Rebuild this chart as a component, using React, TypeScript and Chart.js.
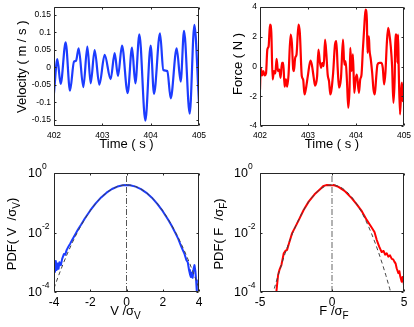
import React, { useEffect, useRef } from 'react';
import { Chart, registerables } from 'chart.js';
Chart.register(...registerables);

const FONT = '"Liberation Sans", Arial, Helvetica, sans-serif';

// ---------------- data ----------------
const timeTicks = [402, 403, 404, 405];
const velocityTicks = [-0.15, -0.1, -0.05, 0, 0.05, 0.1, 0.15];
const forceTicks = [-4, -2, 0, 2, 4];
const pdfTicks = [1e-4, 1e-2, 1];
const vNormTicks = [-4, -2, 0, 2, 4];
const fNormTicks = [-5, 0, 5];

const velocityTime = [402.0, 402.069, 402.138, 402.241, 402.331, 402.414, 402.455, 402.51, 402.607, 402.69, 402.759, 402.841, 402.938, 403.048, 403.172, 403.255, 403.324, 403.407, 403.524, 403.614, 403.683, 403.766, 403.89, 404.0, 404.069, 404.193, 404.262, 404.345, 404.414, 404.538, 404.621, 404.69, 404.807, 404.904, 405.0];
const velocityValue = [-0.074, 0.023, -0.048, 0.071, -0.067, 0.016, 0.018, 0.054, -0.057, 0.059, -0.046, 0.049, -0.05, 0.035, -0.034, 0.04, -0.025, 0.062, -0.074, 0.056, -0.046, 0.094, -0.153, 0.062, -0.076, 0.097, -0.008, -0.011, -0.089, 0.054, -0.041, 0.104, -0.133, 0.121, -0.103];

const forceTime = [402.0, 402.015, 402.042, 402.07, 402.097, 402.125, 402.153, 402.18, 402.208, 402.236, 402.263, 402.291, 402.319, 402.346, 402.374, 402.402, 402.429, 402.457, 402.485, 402.512, 402.54, 402.567, 402.595, 402.637, 402.664, 402.692, 402.706, 402.733, 402.761, 402.802, 402.83, 402.871, 402.899, 402.927, 402.954, 402.996, 403.051, 403.079, 403.12, 403.148, 403.19, 403.217, 403.245, 403.272, 403.3, 403.328, 403.355, 403.383, 403.41, 403.438, 403.466, 403.521, 403.563, 403.59, 403.618, 403.646, 403.687, 403.729, 403.756, 403.784, 403.812, 403.839, 403.867, 403.881, 403.908, 403.936, 403.964, 403.991, 404.019, 404.06, 404.088, 404.115, 404.143, 404.171, 404.198, 404.226, 404.24, 404.268, 404.281, 404.309, 404.337, 404.364, 404.392, 404.42, 404.447, 404.489, 404.53, 404.558, 404.586, 404.613, 404.641, 404.669, 404.696, 404.724, 404.752, 404.779, 404.807, 404.82, 404.848, 404.862, 404.876, 404.889, 404.917, 404.945, 404.958, 404.972, 405.0];
const forceValue = [-1.54, -0.09, -0.6, -0.31, -0.6, -0.47, 1.14, 1.36, 2.82, 2.26, -0.87, -0.31, -0.47, 0.52, -0.31, -0.2, -0.76, 0.25, 0.25, -1.36, -0.87, -1.36, -0.54, 2.15, 1.59, -0.2, -0.31, 0.58, 0.81, 2.82, 2.26, -0.65, -0.87, -1.88, -1.54, -0.65, 0.4, 0.13, -0.76, -1.28, -0.65, 1.14, 0.36, -0.09, 0.25, 0.02, 1.81, 0.81, -0.54, -0.99, -1.88, -0.54, 1.48, 1.7, -0.09, -1.43, -0.76, 1.81, 0.13, 0.36, -0.99, -2.77, -1.32, 1.25, -0.31, 0.81, -1.77, -0.87, -0.54, -1.77, -0.87, -0.54, 1.14, 2.6, 3.83, 3.15, 0.92, 2.03, 1.14, 0.47, -0.42, -1.54, -1.88, -0.76, 0.13, 0.25, 0.25, -0.09, -1.21, -0.42, 1.48, 2.6, 2.15, 1.36, 0.02, -2.44, -0.65, 2.15, 2.15, 0.25, 2.15, 0.02, -3.22, -1.43, -1.09, -2.33, -1.21];

const gaussU = [-4.5, -4.25, -4, -3.75, -3.5, -3.25, -3, -2.75, -2.5, -2.25, -2, -1.75, -1.5, -1.25, -1, -0.75, -0.5, -0.25, 0, 0.25, 0.5, 0.75, 1, 1.25, 1.5, 1.75, 2, 2.25, 2.5, 2.75, 3, 3.25, 3.5, 3.75, 4, 4.25, 4.5];
const gaussPdf = [1.6e-5, 4.77e-5, 1.338e-4, 3.526e-4, 8.727e-4, 2.029e-3, 4.432e-3, 9.094e-3, 1.753e-2, 3.174e-2, 5.399e-2, 8.628e-2, 0.1295, 0.1826, 0.242, 0.3011, 0.3521, 0.3867, 0.3989, 0.3867, 0.3521, 0.3011, 0.242, 0.1826, 0.1295, 8.628e-2, 5.399e-2, 3.174e-2, 1.753e-2, 9.094e-3, 4.432e-3, 2.029e-3, 8.727e-4, 3.526e-4, 1.338e-4, 4.77e-5, 1.6e-5];

const vPdfU = [-3.95, -3.9, -3.85, -3.8, -3.75, -3.7, -3.62, -3.55, -3.45, -3.38, -3.3, -3.2, -3.1, -3.0, -2.9, -2.8, -2.7, -2.6, -2.5, -2.3, -2.0, -1.7, -1.4, -1.1, -0.8, -0.5, -0.2, 0.0, 0.2, 0.5, 0.8, 1.1, 1.4, 1.7, 2.0, 2.3, 2.5, 2.7, 2.85, 3.0, 3.1, 3.2, 3.3, 3.38, 3.45, 3.5, 3.55, 3.6, 3.65, 3.7, 3.75, 3.8, 3.84, 3.88, 3.92];
const vPdfValue = [4.5e-4, 1.1e-3, 5.5e-4, 9e-4, 6e-4, 1.0e-3, 8e-4, 1.3e-3, 1.9e-3, 1.8e-3, 2.6e-3, 3.4e-3, 4.3e-3, 5.6e-3, 7.2e-3, 9.2e-3, 1.18e-2, 1.5e-2, 1.85e-2, 2.95e-2, 5.5e-2, 9.5e-2, 0.151, 0.218, 0.29, 0.35, 0.39, 0.395, 0.388, 0.348, 0.287, 0.215, 0.148, 0.092, 0.052, 0.027, 0.0165, 0.0095, 0.0062, 0.0036, 0.0026, 0.0019, 0.0012, 0.001, 0.00055, 0.0004, 0.00032, 0.00045, 0.0003, 0.0006, 0.0008, 0.0005, 0.00025, 0.0001, 0.00004];

const fPdfU = [-3.92, -3.86, -3.74, -3.65, -3.51, -3.35, -3.24, -3.12, -3.0, -2.77, -2.59, -2.31, -1.97, -1.62, -1.21, -0.81, -0.58, -0.35, -0.12, 0.11, 0.45, 0.87, 1.38, 1.72, 2.07, 2.42, 2.72, 2.95, 3.11, 3.27, 3.45, 3.58, 3.69, 3.8, 3.91, 4.03, 4.15, 4.25, 4.33, 4.42, 4.49, 4.61, 4.68, 4.74, 4.84, 4.9, 4.95, 5.0];
const fPdfValue = [6e-5, 1.05e-4, 3.8e-4, 5.5e-4, 8.2e-4, 2.0e-3, 2.4e-3, 2.6e-3, 4.1e-3, 9.5e-3, 1.4e-2, 2.6e-2, 5.7e-2, 0.109, 0.193, 0.29, 0.37, 0.395, 0.39, 0.395, 0.34, 0.25, 0.14, 0.088, 0.052, 0.026, 0.0156, 0.0104, 0.0056, 0.0034, 0.0022, 0.0024, 0.0018, 0.002, 0.00155, 0.0017, 0.0013, 0.00125, 0.00105, 0.0009, 0.00063, 0.00043, 0.0005, 0.00033, 0.00022, 0.00032, 0.00026, 0.00017];

const zeroLineU = [0, 0];
const zeroLinePdf = [1e-4, 1];

// ---------------- helpers ----------------
const toXY = (xs: number[], ys: number[]) => xs.map((x, i) => ({ x, y: ys[i] }));

type Seg = { text: string; size: number; dy?: number };
type TextItem = { x: number; y: number; rotate?: boolean; segs: Seg[] };
type Rect = { left: number; top: number; width: number; height: number };
type Area = { l: number; t: number; r: number; b: number };

function drawRich(ctx: CanvasRenderingContext2D, it: TextItem, ox: number, oy: number) {
  ctx.save();
  ctx.translate(it.x - ox, it.y - oy);
  if (it.rotate) ctx.rotate(-Math.PI / 2);
  ctx.textBaseline = 'alphabetic';
  ctx.textAlign = 'left';
  ctx.fillStyle = '#000';
  let total = 0;
  const widths = it.segs.map((s) => {
    ctx.font = `${s.size}px ${FONT}`;
    const w = ctx.measureText(s.text).width;
    total += w;
    return w;
  });
  let cx = -total / 2;
  it.segs.forEach((s, i) => {
    ctx.font = `${s.size}px ${FONT}`;
    ctx.fillText(s.text, cx, s.dy || 0);
    cx += widths[i];
  });
  ctx.restore();
}

function framePlugin() {
  return {
    id: 'frame',
    afterDatasetsDraw(chart: any) {
      const { ctx, chartArea: a, scales } = chart;
      const l = Math.round(a.left) + 0.5;
      const r = Math.round(a.right) - 0.5;
      const t = Math.round(a.top) + 0.5;
      const b = Math.round(a.bottom) - 0.5;
      const tl = 2;
      ctx.save();
      ctx.strokeStyle = '#262626';
      ctx.lineWidth = 1;
      ctx.beginPath();
      ctx.rect(l, t, r - l, b - t);
      for (const tk of scales.x.ticks) {
        const px = Math.round(scales.x.getPixelForValue(tk.value)) + 0.5;
        ctx.moveTo(px, b); ctx.lineTo(px, b - tl);
        ctx.moveTo(px, t); ctx.lineTo(px, t + tl);
      }
      for (const tk of scales.y.ticks) {
        const py = Math.round(scales.y.getPixelForValue(tk.value)) + 0.5;
        ctx.moveTo(l, py); ctx.lineTo(l + tl, py);
        ctx.moveTo(r, py); ctx.lineTo(r - tl, py);
      }
      ctx.stroke();
      ctx.restore();
    },
  };
}

function textPlugin(items: TextItem[], logLabels: boolean, ox: number, oy: number) {
  return {
    id: 'texts',
    afterDraw(chart: any) {
      const ctx = chart.ctx as CanvasRenderingContext2D;
      ctx.save();
      items.forEach((it) => drawRich(ctx, it, ox, oy));
      if (logLabels) {
        const ys = chart.scales.y;
        const left = chart.chartArea.left - 26;
        ctx.fillStyle = '#000';
        ctx.textAlign = 'left';
        ctx.textBaseline = 'middle';
        for (const tk of ys.ticks) {
          const py = ys.getPixelForValue(tk.value);
          const e = Math.round(Math.log10(tk.value));
          ctx.font = `12.5px ${FONT}`;
          ctx.fillText('10', left, py + 1);
          const w = ctx.measureText('10').width;
          ctx.font = `8.5px ${FONT}`;
          ctx.fillText(String(e), left + w, py - 6);
        }
      }
      ctx.restore();
    },
  };
}

type PanelSpec = {
  rect: Rect;
  area: Area;
  datasets: any[];
  xMin: number; xMax: number; xTicks: number[];
  yLog: boolean; yMin: number; yMax: number; yTicks: number[];
  tickSize: number; xTickPad: number;
  texts: TextItem[];
};

function buildConfig(p: PanelSpec): any {
  const { rect, area } = p;
  const yWidth = area.l - rect.left;
  const xHeight = rect.top + rect.height - area.b;
  const tickFont = { family: FONT, size: p.tickSize };
  return {
    type: 'line',
    data: { datasets: p.datasets },
    options: {
      responsive: false,
      animation: false,
      devicePixelRatio: 1,
      events: [],
      layout: { padding: { left: 0, bottom: 0, top: area.t - rect.top, right: rect.left + rect.width - area.r } },
      plugins: { legend: { display: false }, tooltip: { enabled: false } },
      elements: { point: { radius: 0 } },
      scales: {
        x: {
          type: 'linear',
          min: p.xMin,
          max: p.xMax,
          afterBuildTicks: (s: any) => { s.ticks = p.xTicks.map((v) => ({ value: v })); },
          afterFit: (s: any) => {
            s.height = xHeight;
            s.paddingLeft = 0; s.paddingRight = 0; s.paddingTop = 0; s.paddingBottom = 0;
          },
          grid: { display: false, drawTicks: false },
          border: { display: false },
          ticks: {
            font: tickFont, color: '#000', padding: p.xTickPad, maxRotation: 0, minRotation: 0,
            autoSkip: false, callback: (v: number) => String(v),
          },
        },
        y: {
          type: p.yLog ? 'logarithmic' : 'linear',
          min: p.yMin,
          max: p.yMax,
          afterBuildTicks: (s: any) => { s.ticks = p.yTicks.map((v) => ({ value: v })); },
          afterFit: (s: any) => {
            s.width = yWidth;
            s.paddingLeft = 0; s.paddingRight = 0; s.paddingTop = 0; s.paddingBottom = 0;
          },
          grid: { display: false, drawTicks: false },
          border: { display: false },
          ticks: {
            display: !p.yLog,
            font: tickFont, color: '#000', padding: 3, autoSkip: false,
            callback: (v: number) => String(v),
          },
        },
      },
    },
    plugins: [framePlugin(), textPlugin(p.texts, p.yLog, rect.left, rect.top)],
  };
}

function Panel({ spec }: { spec: PanelSpec }) {
  const ref = useRef<HTMLCanvasElement>(null);
  useEffect(() => {
    const chart = new Chart(ref.current as HTMLCanvasElement, buildConfig(spec));
    return () => chart.destroy();
  }, [spec]);
  const { left, top, width, height } = spec.rect;
  return (
    <canvas
      ref={ref}
      width={width}
      height={height}
      style={{ position: 'absolute', left, top, width, height, display: 'block' }}
    />
  );
}

const BLUE = '#1c3cff';
const RED = '#ff0000';

const lineDs = (xs: number[], ys: number[], color: string) => ({
  data: toXY(xs, ys),
  borderColor: color,
  borderWidth: 2.2,
  pointRadius: 0,
  cubicInterpolationMode: 'monotone',
  borderJoinStyle: 'round',
  borderCapStyle: 'round',
  clip: 0,
});

const gaussDs = () => ({
  data: toXY(gaussU, gaussPdf),
  borderColor: '#444',
  borderWidth: 1,
  borderDash: [4, 3],
  pointRadius: 0,
  tension: 0,
  clip: 0,
});

const zeroDs = (color: string, width: number) => ({
  data: toXY(zeroLineU, zeroLinePdf),
  borderColor: color,
  borderWidth: width,
  borderDash: [6, 2, 1, 2],
  pointRadius: 0,
  clip: 0,
});

const pdfDs = (xs: number[], ys: number[], color: string) => ({
  data: toXY(xs, ys),
  borderColor: color,
  borderWidth: 2,
  pointRadius: 0,
  tension: 0,
  borderJoinStyle: 'round',
  clip: 0,
});

const specs: PanelSpec[] = [
  {
    rect: { left: 0, top: 0, width: 232, height: 160 },
    area: { l: 54, t: 7, r: 199, b: 126 },
    datasets: [lineDs(velocityTime, velocityValue, BLUE)],
    xMin: 402, xMax: 405, xTicks: timeTicks,
    yLog: false, yMin: -0.168, yMax: 0.172, yTicks: velocityTicks,
    tickSize: 8.5, xTickPad: 5,
    texts: [
      { x: 126.5, y: 147.5, segs: [{ text: 'Time ( s )', size: 13 }] },
      { x: 26, y: 66.7, rotate: true, segs: [{ text: 'Velocity ( m / s )', size: 13 }] },
    ],
  },
  {
    rect: { left: 207, top: 0, width: 207, height: 160 },
    area: { l: 260, t: 7, r: 404, b: 126 },
    datasets: [lineDs(forceTime, forceValue, RED)],
    xMin: 402, xMax: 405, xTicks: timeTicks,
    yLog: false, yMin: -4, yMax: 4, yTicks: forceTicks,
    tickSize: 8.5, xTickPad: 5,
    texts: [
      { x: 332, y: 147.5, segs: [{ text: 'Time ( s )', size: 13 }] },
      { x: 242.3, y: 64, rotate: true, segs: [{ text: 'Force ( N )', size: 13 }] },
    ],
  },
  {
    rect: { left: 0, top: 150, width: 232, height: 177 },
    area: { l: 54, t: 173, r: 199, b: 292 },
    datasets: [gaussDs(), zeroDs('#555', 1), pdfDs(vPdfU, vPdfValue, BLUE)],
    xMin: -4, xMax: 4, xTicks: vNormTicks,
    yLog: true, yMin: 1e-4, yMax: 1, yTicks: pdfTicks,
    tickSize: 12, xTickPad: 3,
    texts: [
      { x: 125.5, y: 315, segs: [{ text: 'V /σ', size: 13 }, { text: 'V', size: 10, dy: 4 }] },
      { x: 15.7, y: 234, rotate: true, segs: [{ text: 'PDF( V  /σ', size: 13 }, { text: 'V', size: 10, dy: 4 }, { text: ')', size: 13 }] },
    ],
  },
  {
    rect: { left: 207, top: 150, width: 207, height: 177 },
    area: { l: 260, t: 173, r: 404, b: 292 },
    datasets: [gaussDs(), zeroDs('#999', 1.5), pdfDs(fPdfU, fPdfValue, RED)],
    xMin: -5, xMax: 5, xTicks: fNormTicks,
    yLog: true, yMin: 1e-4, yMax: 1, yTicks: pdfTicks,
    tickSize: 12, xTickPad: 3,
    texts: [
      { x: 334, y: 315, segs: [{ text: 'F /σ', size: 13 }, { text: 'F', size: 10, dy: 4 }] },
      { x: 222.5, y: 234, rotate: true, segs: [{ text: 'PDF( F  /σ', size: 13 }, { text: 'F', size: 10, dy: 4 }, { text: ')', size: 13 }] },
    ],
  },
];

export default function App() {
  return (
    <div style={{ position: 'absolute', left: 0, top: 0, width: 414, height: 327, background: '#fff', overflow: 'hidden' }}>
      {specs.map((s, i) => (
        <Panel key={i} spec={s} />
      ))}
    </div>
  );
}
